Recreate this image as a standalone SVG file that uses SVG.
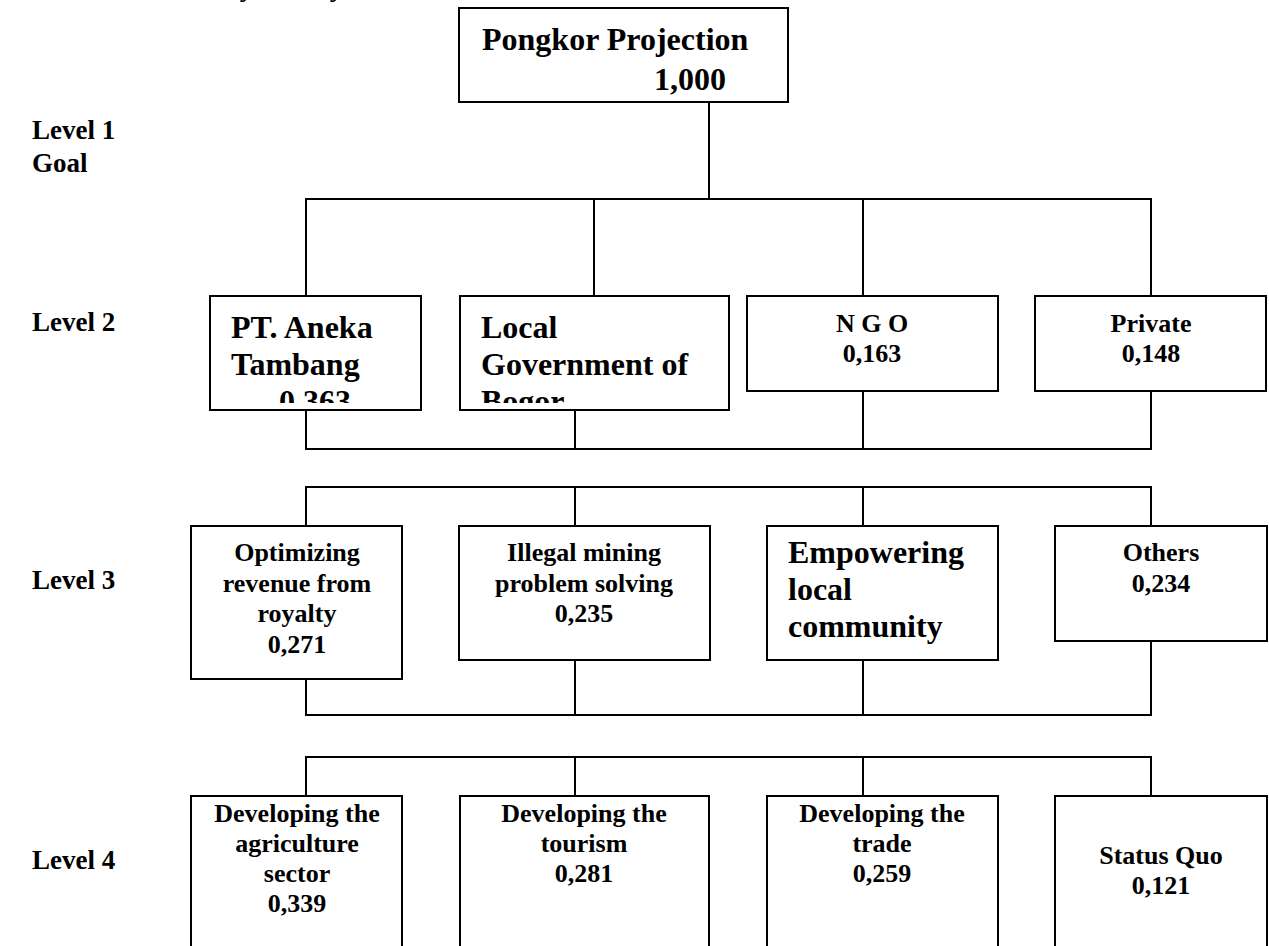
<svg xmlns="http://www.w3.org/2000/svg" width="1269" height="946" viewBox="0 0 1269 946">
<style>
.box{fill:#fff;stroke:#000;stroke-width:2}
.ln{fill:none;stroke:#000;stroke-width:2}
text{font-family:"Liberation Serif","Times New Roman",serif;font-weight:bold;fill:#000}
.big{font-size:32px}
.sm{font-size:26px}
.lv{font-size:27px}
.c{text-anchor:middle}
</style>
<defs>
<clipPath id="clipPT"><rect x="211" y="297" width="209" height="106"/></clipPath>
<clipPath id="clipLG"><rect x="461" y="297" width="267" height="106"/></clipPath>
</defs>
<g id="fragments"><text class="lv" x="243" y="-4" font-style="italic">y</text><text class="lv" x="333" y="-4" font-style="italic">y</text></g>
<g id="levels">
<text class="lv" x="32" y="139">Level 1</text>
<text class="lv" x="32" y="172">Goal</text>
<text class="lv" x="32" y="331">Level 2</text>
<text class="lv" x="32" y="589">Level 3</text>
<text class="lv" x="32" y="869">Level 4</text>
</g>
<g id="connectors">
<path class="ln" d="M709,102 V199"/>
<path class="ln" d="M306,296 V199 H1151 V295 M594,199 V296 M863,199 V296"/>
<path class="ln" d="M306,410 V449 H1151 V391 M575,410 V449 M863,391 V449"/>
<path class="ln" d="M306,526 V487 H1151 V526 M575,487 V526 M863,487 V526"/>
<path class="ln" d="M306,679 V715 H1151 V641 M575,660 V715 M863,660 V715"/>
<path class="ln" d="M306,796 V757 H1151 V796 M575,757 V796 M863,757 V796"/>
</g>
<g id="goal">
<rect class="box" x="459" y="8" width="329" height="94"/>
<text class="big" x="482" y="50">Pongkor Projection</text>
<text class="big" x="654" y="90">1,000</text>
</g>
<g id="pt-aneka-tambang">
<rect class="box" x="210" y="296" width="211" height="114"/>
<g clip-path="url(#clipPT)">
<text class="big" x="231" y="338">PT. Aneka</text>
<text class="big" x="231" y="375">Tambang</text>
<text class="big c" x="315" y="412">0,363</text>
</g>
</g>
<g id="local-government">
<rect class="box" x="460" y="296" width="269" height="114"/>
<g clip-path="url(#clipLG)">
<text class="big" x="481" y="338">Local</text>
<text class="big" x="481" y="375">Government of</text>
<text class="big" x="481" y="412">Bogor</text>
</g>
</g>
<g id="ngo">
<rect class="box" x="747" y="296" width="251" height="95"/>
<text class="sm c" x="872" y="332">N G O</text>
<text class="sm c" x="872" y="362">0,163</text>
</g>
<g id="private">
<rect class="box" x="1035" y="296" width="231" height="95"/>
<text class="sm c" x="1151" y="332">Private</text>
<text class="sm c" x="1151" y="362">0,148</text>
</g>
<g id="optimizing">
<rect class="box" x="191" y="526" width="211" height="153"/>
<text class="sm c" x="297" y="561">Optimizing</text>
<text class="sm c" x="297" y="592">revenue from</text>
<text class="sm c" x="297" y="622">royalty</text>
<text class="sm c" x="297" y="653">0,271</text>
</g>
<g id="illegal-mining">
<rect class="box" x="459" y="526" width="251" height="134"/>
<text class="sm c" x="584" y="561">Illegal mining</text>
<text class="sm c" x="584" y="592">problem solving</text>
<text class="sm c" x="584" y="622">0,235</text>
</g>
<g id="empowering">
<rect class="box" x="767" y="526" width="231" height="134"/>
<text class="big" x="788" y="563">Empowering</text>
<text class="big" x="788" y="600">local</text>
<text class="big" x="788" y="637">community</text>
</g>
<g id="others">
<rect class="box" x="1055" y="526" width="212" height="115"/>
<text class="sm c" x="1161" y="561">Others</text>
<text class="sm c" x="1161" y="592">0,234</text>
</g>
<g id="agriculture">
<rect class="box" x="191" y="796" width="211" height="170"/>
<text class="sm c" x="297" y="822">Developing the</text>
<text class="sm c" x="297" y="852">agriculture</text>
<text class="sm c" x="297" y="882">sector</text>
<text class="sm c" x="297" y="912">0,339</text>
</g>
<g id="tourism">
<rect class="box" x="460" y="796" width="249" height="170"/>
<text class="sm c" x="584" y="822">Developing the</text>
<text class="sm c" x="584" y="852">tourism</text>
<text class="sm c" x="584" y="882">0,281</text>
</g>
<g id="trade">
<rect class="box" x="767" y="796" width="231" height="170"/>
<text class="sm c" x="882" y="822">Developing the</text>
<text class="sm c" x="882" y="852">trade</text>
<text class="sm c" x="882" y="882">0,259</text>
</g>
<g id="status-quo">
<rect class="box" x="1055" y="796" width="212" height="170"/>
<text class="sm c" x="1161" y="864">Status Quo</text>
<text class="sm c" x="1161" y="894">0,121</text>
</g>
</svg>
